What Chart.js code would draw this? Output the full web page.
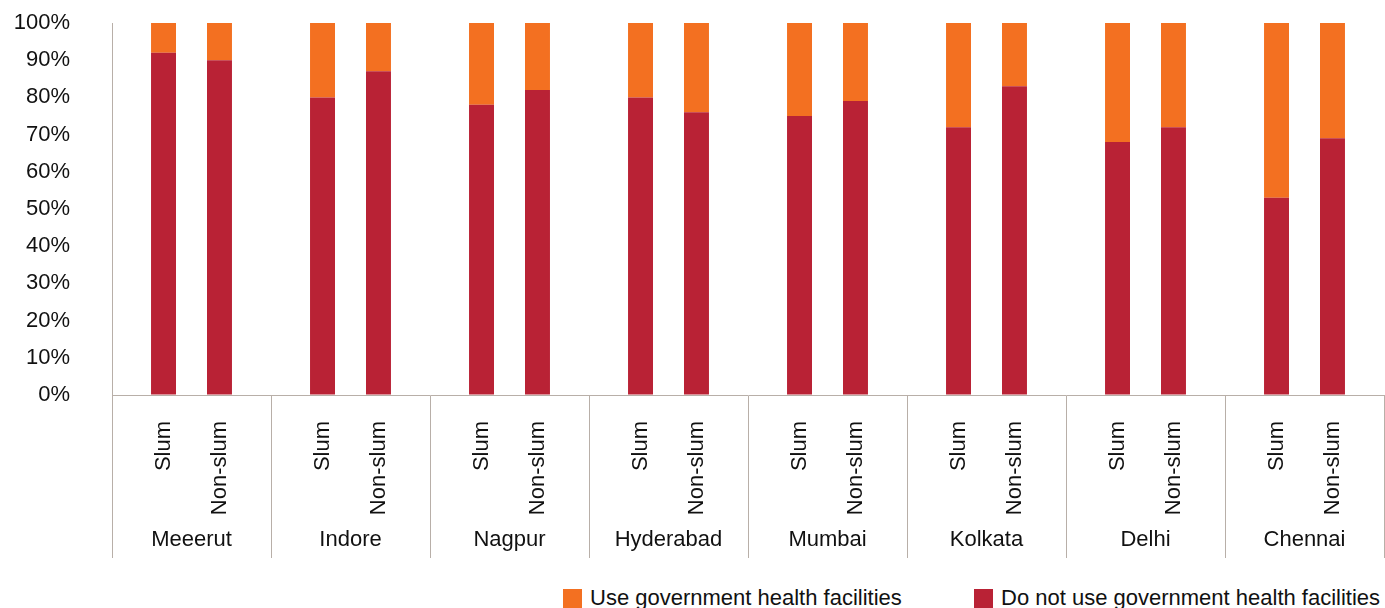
<!DOCTYPE html>
<html>
<head>
<meta charset="utf-8">
<script src="https://cdn.jsdelivr.net/npm/chart.js@4/dist/chart.umd.min.js"></script>
<style>
  body { margin: 0; background: #fff; overflow: hidden; }
  #wrap { position: relative; width: 1385px; height: 608px; }
  #box { position: absolute; left: 0; top: 0; width: 1385px; height: 570px; }
  .leg { position: absolute; top: 587px; font: 22px "Liberation Sans", Arial, sans-serif; line-height: 22px; color: #111; white-space: nowrap; }
  .leg i { display: inline-block; width: 19px; height: 19px; margin-right: 8px; vertical-align: top; margin-top: 2px; }
</style>
</head>
<body>
<div id="wrap">
  <div id="box"><canvas id="chart"></canvas></div>
  <div id="legend"></div>
</div>
<script>
const cities = ['Meeerut', 'Indore', 'Nagpur', 'Hyderabad', 'Mumbai', 'Kolkata', 'Delhi', 'Chennai'];
const groups = ['Slum', 'Non-slum'];
const yTicks = [0, 10, 20, 30, 40, 50, 60, 70, 80, 90, 100];

// share of households, %
const notUseSlum    = [92, 80, 78, 80, 75, 72, 68, 53];
const useSlum       = [8, 20, 22, 20, 25, 28, 32, 47];
const notUseNonSlum = [90, 87, 82, 76, 79, 83, 72, 69];
const useNonSlum    = [10, 13, 18, 24, 21, 17, 28, 31];

const RED = '#b92235';
const ORANGE = '#f37021';
const LINE = '#b8afa8';
const FONT = { family: '"Liberation Sans", Arial, sans-serif', size: 22 };

// rotated Slum / Non-slum labels under each bar
const subLabels = {
  id: 'subLabels',
  afterDraw(chart) {
    const ctx = chart.ctx;
    ctx.save();
    ctx.font = FONT.size + 'px ' + FONT.family;
    ctx.fillStyle = '#111';
    [0, 2].forEach((di, g) => {
      chart.getDatasetMeta(di).data.forEach(bar => {
        ctx.save();
        ctx.translate(bar.x, 421);
        ctx.rotate(-Math.PI / 2);
        ctx.textAlign = 'right';
        ctx.textBaseline = 'middle';
        ctx.fillText(groups[g], 0, 0);
        ctx.restore();
      });
    });
    ctx.restore();
  }
};

const chart = new Chart(document.getElementById('chart'), {
  type: 'bar',
  data: {
    labels: cities,
    datasets: [
      { label: 'Do not use government health facilities', data: notUseSlum, backgroundColor: RED, stack: groups[0] },
      { label: 'Use government health facilities', data: useSlum, backgroundColor: ORANGE, stack: groups[0] },
      { label: 'Do not use government health facilities', data: notUseNonSlum, backgroundColor: RED, stack: groups[1] },
      { label: 'Use government health facilities', data: useNonSlum, backgroundColor: ORANGE, stack: groups[1] }
    ]
  },
  options: {
    responsive: true,
    maintainAspectRatio: false,
    animation: false,
    categoryPercentage: 0.704,
    barPercentage: 0.446,
    layout: { padding: { top: 23, right: 1, left: 0, bottom: 0 } },
    plugins: {
      legend: { display: false },
      tooltip: { enabled: false }
    },
    scales: {
      x: {
        stacked: true,
        grid: { offset: true, drawOnChartArea: false, tickLength: 163, color: LINE, lineWidth: 1 },
        border: { color: LINE, width: 1 },
        ticks: { font: FONT, color: '#111', padding: -31, maxRotation: 0, autoSkip: false },
        afterFit(scale) { scale.height = 175; }
      },
      y: {
        stacked: true,
        min: 0,
        max: 100,
        afterBuildTicks(scale) { scale.ticks = yTicks.map(v => ({ value: v })); },
        grid: { drawOnChartArea: false, drawTicks: true, tickLength: 42, tickColor: 'rgba(0,0,0,0)' },
        border: { color: LINE, width: 1 },
        ticks: { font: FONT, color: '#111', padding: 0, callback: v => v + '%' },
        afterFit(scale) { scale.width = 112; }
      }
    }
  },
  plugins: [subLabels]
});

// legend: orange first, then red
const legendItems = [
  { text: chart.data.datasets[1].label, color: ORANGE, left: 563 },
  { text: chart.data.datasets[0].label, color: RED, left: 974 }
];
document.getElementById('legend').innerHTML = legendItems.map(it =>
  `<div class="leg" style="left:${it.left}px"><i style="background:${it.color}"></i>${it.text}</div>`
).join('');
</script>
</body>
</html>
